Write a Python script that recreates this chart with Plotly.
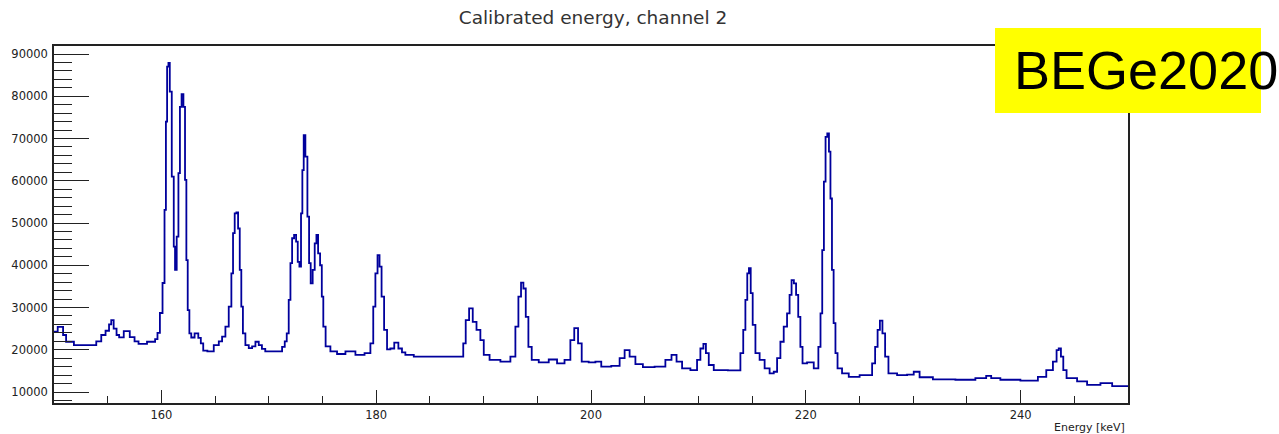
import plotly.graph_objects as go

# Energy (keV) and counts
energy = [
    150.00, 150.69, 151.00, 151.25, 152.46, 153.67, 154.20, 154.60, 155.00, 155.25,
    155.41, 155.70, 155.95, 156.18, 156.81, 157.30, 157.70, 158.04, 159.28, 159.55,
    159.72, 160.00, 160.21, 160.37, 160.47, 160.59, 160.72, 160.84, 161.09, 161.21,
    161.33, 161.52, 161.65, 161.80, 161.96, 162.14, 162.26, 162.39, 162.51, 162.70,
    162.86, 163.32, 163.55, 163.79, 164.00, 164.56, 165.19, 165.50, 165.80, 166.12,
    166.42, 166.61, 166.73, 166.92, 167.05, 167.23, 167.36, 167.52, 167.66, 167.98,
    168.29, 168.60, 168.91, 169.22, 169.50, 169.84, 171.08, 171.39, 171.58, 171.76,
    171.95, 172.08, 172.26, 172.45, 172.63, 172.76, 172.94, 173.06, 173.19, 173.31,
    173.50, 173.69, 173.81, 173.99, 174.18, 174.37, 174.50, 174.68, 174.87, 175.00,
    175.15, 175.43, 176.04, 176.67, 177.60, 178.53, 179.30, 179.62, 179.83, 180.02,
    180.23, 180.39, 180.61, 180.86, 181.16, 181.48, 181.88, 182.25, 182.55, 182.88,
    184.12, 188.00, 188.21, 188.46, 188.84, 189.14, 189.54, 189.86, 190.17, 190.94,
    192.19, 192.80, 193.12, 193.36, 193.61, 193.80, 194.05, 194.29, 194.67, 195.60,
    196.53, 197.15, 197.92, 198.24, 198.64, 198.95, 199.32, 200.25, 200.57, 201.34,
    202.43, 202.90, 203.36, 203.83, 204.44, 205.22, 206.62, 207.23, 207.76, 208.17,
    208.79, 209.72, 210.03, 210.34, 210.59, 210.81, 211.12, 211.74, 213.75, 214.07,
    214.28, 214.47, 214.63, 214.78, 214.96, 215.15, 215.47, 215.93, 216.40, 216.86,
    217.17, 217.48, 217.79, 218.10, 218.41, 218.57, 218.78, 219.00, 219.19, 219.40,
    219.59, 219.80, 220.43, 221.05, 221.29, 221.45, 221.61, 221.76, 221.92, 222.08,
    222.23, 222.36, 222.51, 222.67, 222.85, 223.06, 223.69, 224.31, 225.71, 226.02,
    226.33, 226.58, 226.79, 227.01, 227.26, 227.51, 227.88, 229.12, 229.74, 230.36,
    230.83, 232.84, 235.02, 236.56, 237.03, 237.49, 238.74, 241.22, 242.00, 242.78,
    243.24, 243.46, 243.64, 243.87, 244.08, 244.48, 244.95, 245.57, 246.81, 248.06,
    248.99, 250.00,
]
counts = [
    24300, 25400, 23500, 21900, 21100, 21100, 22000, 23500, 24500, 26000,
    27000, 25000, 23500, 22950, 24400, 23000, 22000, 21400, 21900, 22500,
    24000, 28700, 35800, 53100, 74000, 87000, 87900, 81100, 61000, 44400,
    38900, 46800, 61800, 77500, 80500, 77500, 60200, 41200, 29400, 23900,
    22900, 23900, 22800, 21500, 19800, 19600, 21100, 22000, 23100, 25500,
    30200, 38100, 47600, 52300, 52500, 48700, 38900, 30200, 23900, 21100,
    20400, 20800, 21900, 21100, 20200, 19600, 19600, 20700, 22000, 23900,
    31800, 40500, 46400, 47200, 45600, 40800, 39700, 52300, 62500, 70800,
    65700, 51500, 40500, 35700, 38900, 45200, 47200, 42800, 40000, 32600,
    25500, 20800, 19600, 19000, 19600, 18800, 19200, 21500, 30200, 38100,
    42400, 39700, 32600, 24700, 20100, 20300, 21700, 20300, 19400, 18800,
    18400, 18400, 21500, 27000, 29800, 26600, 24700, 22300, 18800, 17600,
    17200, 18400, 25500, 32600, 35900, 34500, 27800, 20700, 17600, 17000,
    17700, 16800, 17600, 22300, 25100, 21500, 17200, 17000, 17200, 16000,
    16200, 18000, 19900, 18400, 16600, 15900, 16000, 17600, 18800, 17200,
    15600, 15200, 17600, 20300, 21400, 19200, 16400, 15200, 15100, 19200,
    24700, 31800, 38100, 39300, 33400, 25900, 19200, 17600, 15600, 14400,
    14800, 18000, 21900, 25500, 28600, 33000, 36500, 35700, 33000, 27800,
    20700, 16800, 17000, 15600, 20700, 28600, 43600, 59800, 70400, 71200,
    66900, 55800, 38900, 26300, 19200, 15600, 14400, 13600, 14000, 14000,
    16800, 20700, 24700, 26900, 23900, 18400, 14400, 14000, 14100, 14800,
    13500, 13000, 12900, 13300, 13800, 13300, 12900, 12700, 13600, 15200,
    17200, 19900, 20300, 18400, 15200, 13300, 13300, 12500, 11700, 12100,
    11400, 11400,
]

title_text = "Calibrated energy, channel 2"
x_label = "Energy [keV]"
badge_text = "BEGe2020"

fig = go.Figure()
fig.add_trace(go.Scatter(
    x=energy, y=counts, mode="lines",
    line=dict(color="#00009c", width=1.8, shape="hvh"),
    hoverinfo="skip",
))

W, H = 1279, 434
L, R, T, B = 54, 151, 46, 31
pw, ph = W - L - R, H - T - B

def px(xp):
    return (xp - L) / pw

def py(yp):
    return (H - B - yp) / ph

axis_col = "#222222"
tick_font = dict(family="DejaVu Sans", size=11.5, color=axis_col)

fig.update_layout(
    width=W, height=H,
    margin=dict(l=L, r=R, t=T, b=B, pad=0),
    paper_bgcolor="white", plot_bgcolor="white",
    showlegend=False,
    title=dict(text=title_text, xref="container", yref="container",
               x=593 / W, y=1 - 18 / H, xanchor="center", yanchor="middle",
               font=dict(family="DejaVu Sans", size=18.5, color="#333333")),
    xaxis=dict(range=[150, 250], tick0=0, dtick=20, ticks="inside", ticklen=13,
               tickwidth=1.2, tickcolor=axis_col, showline=True, linecolor=axis_col,
               linewidth=1.5, mirror=True, showgrid=False, zeroline=False,
               tickfont=tick_font,
               minor=dict(tick0=0, dtick=5, ticks="inside", ticklen=7,
                          tickwidth=1.2, tickcolor=axis_col, showgrid=False)),
    yaxis=dict(range=[7400, 91900], tick0=0, dtick=10000, ticks="inside", ticklen=35,
               tickwidth=1.2, tickcolor=axis_col, showline=True, linecolor=axis_col,
               linewidth=1.5, mirror=True, showgrid=False, zeroline=False,
               tickfont=tick_font, ticklabelstandoff=2, tickformat="d",
               minor=dict(tick0=0, dtick=2000, ticks="inside", ticklen=18,
                          tickwidth=1.2, tickcolor=axis_col, showgrid=False)),
)

fig.add_annotation(text=x_label, xref="paper", yref="paper",
                   x=px(1127), y=py(427), xanchor="right", yanchor="middle",
                   showarrow=False,
                   font=dict(family="DejaVu Sans", size=11, color=axis_col))

fig.add_shape(type="rect", xref="paper", yref="paper",
              x0=px(995), x1=px(1261), y0=py(113), y1=py(28),
              fillcolor="#ffff00", line=dict(width=0), layer="above")

fig.add_annotation(text=badge_text, xref="paper", yref="paper",
                   x=px(1012), y=py(70), xanchor="left", yanchor="middle",
                   showarrow=False,
                   font=dict(family="Liberation Sans", size=54, color="black"))

fig.write_html("out.html")
